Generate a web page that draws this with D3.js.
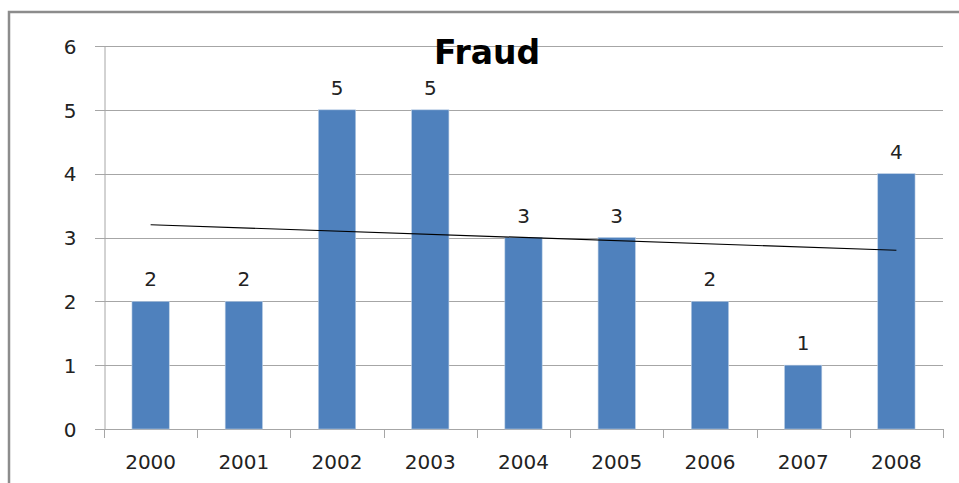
<!DOCTYPE html>
<html>
<head>
<meta charset="utf-8">
<script src="https://cdn.jsdelivr.net/npm/d3@7"></script>
<style>
  body { margin: 0; background: #fff; }
  text { font-family: "DejaVu Sans", Verdana, sans-serif; fill: #222; }
</style>
</head>
<body>
<svg></svg>
<script>
const width = 959;
const height = 483;

const years = ['2000', '2001', '2002', '2003', '2004', '2005', '2006', '2007', '2008'];
const counts = [2, 2, 5, 5, 3, 3, 2, 1, 4];
const yTicks = [0, 1, 2, 3, 4, 5, 6];
const title = 'Fraud';

const svg = d3.select('svg')
  .attr('width', width)
  .attr('height', height);

// outer chart border
svg.append('rect')
  .attr('x', 9).attr('y', 12)
  .attr('width', width + 20).attr('height', height + 20)
  .attr('fill', 'none')
  .attr('stroke', '#8c8c8c')
  .attr('stroke-width', 2.5);

const x = d3.scaleBand()
  .domain(years)
  .range([104, 943])
  .paddingInner(0.6)
  .paddingOuter(0.3);

const xLine = d3.scalePoint()
  .domain(years)
  .range([104, 943])
  .padding(0.5);

const y = d3.scaleLinear()
  .domain([0, 6])
  .range([429, 46]);

// gridlines
svg.append('g')
  .selectAll('line')
  .data(yTicks)
  .enter()
  .append('line')
    .attr('x1', 95)
    .attr('x2', 943)
    .attr('y1', d => Math.round(y(d)) + 0.5)
    .attr('y2', d => Math.round(y(d)) + 0.5)
    .attr('stroke', '#a6a6a6')
    .attr('stroke-width', 1);

// y axis
const yAxis = svg.append('g')
  .attr('transform', 'translate(104.5,0)')
  .call(d3.axisLeft(y).tickValues(yTicks).tickFormat(d3.format('d')).tickSize(0).tickPadding(28));
yAxis.select('.domain').attr('stroke', '#a6a6a6');
yAxis.selectAll('text')
  .style('font-size', '20px')
  .attr('dy', '0.36em');

// x axis
const xAxis = svg.append('g')
  .attr('transform', 'translate(0,429.5)')
  .call(d3.axisBottom(x).tickSize(0).tickPadding(25));
xAxis.select('.domain').remove();
xAxis.selectAll('text').style('font-size', '20px');

const step = (943 - 104) / years.length;
svg.append('g')
  .selectAll('line')
  .data(d3.range(years.length + 1))
  .enter()
  .append('line')
    .attr('x1', d => Math.round(104 + d * step) + 0.5)
    .attr('x2', d => Math.round(104 + d * step) + 0.5)
    .attr('y1', 429)
    .attr('y2', 438)
    .attr('stroke', '#a6a6a6');

// bars
svg.append('g')
  .selectAll('rect')
  .data(counts)
  .enter()
  .append('rect')
    .attr('x', (d, i) => x(years[i]))
    .attr('y', d => y(d))
    .attr('width', x.bandwidth())
    .attr('height', d => y(0) - y(d))
    .attr('fill', '#4f81bd')
    .attr('stroke', '#b9cde5')
    .attr('stroke-width', 0.6);

// data labels
svg.append('g')
  .selectAll('text')
  .data(counts)
  .enter()
  .append('text')
    .attr('x', (d, i) => x(years[i]) + x.bandwidth() / 2)
    .attr('y', d => y(d) - 15)
    .attr('text-anchor', 'middle')
    .style('font-size', '20px')
    .text(d => d);

// linear trendline (least squares)
const idx = d3.range(counts.length);
const mx = d3.mean(idx);
const my = d3.mean(counts);
const slope = d3.sum(idx, i => (i - mx) * (counts[i] - my)) / d3.sum(idx, i => (i - mx) * (i - mx));
const intercept = my - slope * mx;
const ends = [0, counts.length - 1];

svg.append('line')
  .attr('x1', xLine(years[ends[0]]))
  .attr('y1', y(intercept + slope * ends[0]))
  .attr('x2', xLine(years[ends[1]]))
  .attr('y2', y(intercept + slope * ends[1]))
  .attr('stroke', '#000')
  .attr('stroke-width', 1.2);

// title
svg.append('text')
  .attr('x', 487)
  .attr('y', 64)
  .attr('text-anchor', 'middle')
  .style('font-size', '33px')
  .style('font-weight', 'bold')
  .style('fill', '#000')
  .text(title);
</script>
</body>
</html>
